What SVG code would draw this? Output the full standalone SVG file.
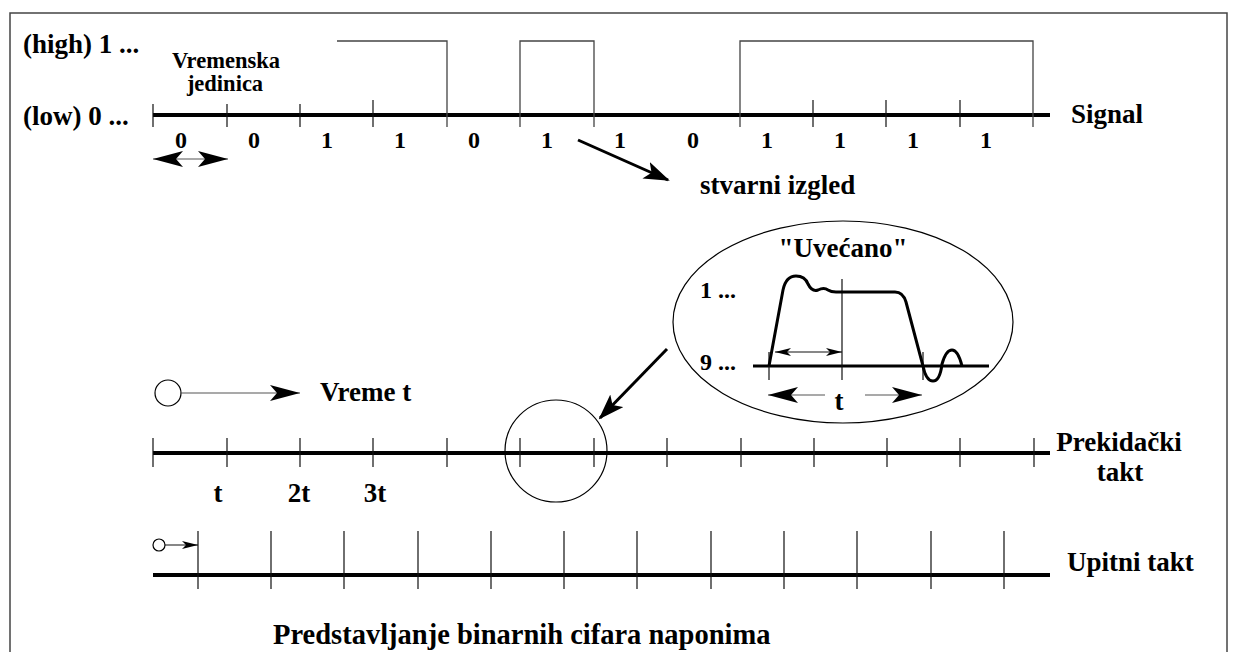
<svg xmlns="http://www.w3.org/2000/svg" width="1237" height="652" viewBox="0 0 1237 652">
<style>
text{font-family:"Liberation Serif","Times New Roman",serif;font-weight:bold;fill:#000}
.lbl{font-size:27px}
.bit{font-size:24px}
.axis{stroke:#000;stroke-width:4;fill:none}
.tick{stroke:#111;stroke-width:1.2;fill:none}
.sig{stroke:#444;stroke-width:1.3;fill:none}
.thin{stroke:#555;stroke-width:1.2;fill:none}
.thick{stroke:#000;stroke-width:3;fill:none}
</style>
<defs>
<marker id="big" viewBox="0 0 30 16" refX="30" refY="8" markerWidth="30" markerHeight="16" markerUnits="userSpaceOnUse" orient="auto-start-reverse">
<path d="M0,0 L30,8 L0,16 L7,8 Z" fill="#000"/>
</marker>
<marker id="sm" viewBox="0 0 16 8" refX="16" refY="4" markerWidth="16" markerHeight="8" markerUnits="userSpaceOnUse" orient="auto-start-reverse">
<path d="M0,0 L16,4 L0,8 L4,4 Z" fill="#000"/>
</marker>
<marker id="thk" viewBox="0 0 26 18" refX="24" refY="9" markerWidth="26" markerHeight="18" markerUnits="userSpaceOnUse" orient="auto">
<path d="M0,0 L26,9 L0,18 L6,9 Z" fill="#000"/>
</marker>
</defs>
<rect x="10" y="13" width="1217" height="660" fill="none" stroke="#444" stroke-width="1.5"/>

<g id="signal">
<text class="lbl" x="23" y="53">(high) 1 ...</text>
<text class="lbl" x="23" y="125">(low) 0 ...</text>
<text x="226" y="68" font-size="22.5" text-anchor="middle">Vremenska</text>
<text x="225" y="91" font-size="22.5" text-anchor="middle">jedinica</text>
<line class="axis" x1="153" y1="115" x2="1050" y2="115"/>
<path class="tick" d="M153,104V127 M227,104V127 M300,104V127 M373,100V127 M813,100V127 M886,100V127 M960,100V127"/>
<path class="sig" d="M337,41H447V127 M520,127V41H594V127 M740,127V41H1033V127"/>
<g class="bit" text-anchor="middle">
<text x="181" y="148">0</text><text x="254" y="148">0</text><text x="327" y="148">1</text><text x="400" y="148">1</text>
<text x="474" y="148">0</text><text x="547" y="148">1</text><text x="620" y="148">1</text><text x="693" y="148">0</text>
<text x="767" y="148">1</text><text x="840" y="148">1</text><text x="913" y="148">1</text><text x="986" y="148">1</text>
</g>
<text class="lbl" x="1071" y="123">Signal</text>
</g>

<g id="unit-arrow">
<line class="thin" x1="153" y1="159" x2="228" y2="159" marker-start="url(#big)" marker-end="url(#big)"/>
</g>

<g id="stvarni">
<text class="lbl" x="700" y="194">stvarni izgled</text>
</g>

<g id="zoom-ellipse">
<ellipse cx="843" cy="322" rx="170" ry="101" fill="none" stroke="#000" stroke-width="1.2"/>
<text class="lbl" x="843" y="257" text-anchor="middle">"Uvećano"</text>
<text x="700" y="298" font-size="24">1 ...</text>
<text x="700" y="370" font-size="24">9 ...</text>
<line class="thick" x1="753" y1="366" x2="989" y2="366"/>
<path class="tick" d="M769,352V380 M842,279V380 M923,352V380"/>
<path class="thick" d="M769,366 L783,290 Q786,276 796,276 Q805,276 808,284 Q812,292 818,290 Q824,287 828,290 Q831,292 836,292 L895,292 Q903,292 906,302 L923,366 Q926,381 933,381 Q940,381 942,364 Q946,350 952,350 Q958,350 962,366"/>
<line class="tick" x1="775" y1="352" x2="842" y2="352" marker-start="url(#sm)" marker-end="url(#sm)"/>
<line class="thin" x1="768" y1="395" x2="825" y2="395" marker-start="url(#big)"/>
<line class="thin" x1="865" y1="395" x2="922" y2="395" marker-end="url(#big)"/>
<text x="839" y="410" font-size="27" text-anchor="middle">t</text>
</g>

<g id="vreme">
<circle cx="168" cy="393" r="13" fill="#fff" stroke="#000" stroke-width="1.2"/>
<line class="thin" x1="181" y1="393" x2="300" y2="393" marker-end="url(#big)"/>
<text class="lbl" x="320" y="401">Vreme t</text>
</g>

<g id="prekidacki">
<line class="axis" x1="153" y1="453" x2="1050" y2="453"/>
<path class="tick" d="M153,438V467 M227,438V467 M300,438V467 M373,438V467 M447,438V467 M520,438V467 M594,438V467 M667,438V467 M741,438V467 M814,438V467 M887,438V467 M960,438V467 M1034,438V467"/>
<circle cx="556" cy="451" r="51" fill="none" stroke="#000" stroke-width="1.2"/>
<g class="lbl" text-anchor="middle">
<text x="218" y="502">t</text><text x="299" y="502">2t</text><text x="375" y="502">3t</text>
</g>
<text class="lbl" x="1119" y="451" text-anchor="middle">Prekidački</text>
<text class="lbl" x="1120" y="481" text-anchor="middle">takt</text>
</g>

<g id="upitni">
<line class="axis" x1="153" y1="575" x2="1050" y2="575"/>
<path class="tick" d="M198,531V589 M271,531V589 M344,531V589 M418,531V589 M491,531V589 M564,531V589 M637,531V589 M711,531V589 M784,531V589 M857,531V589 M931,531V589 M1004,531V589"/>
<circle cx="159" cy="545" r="6" fill="#fff" stroke="#000" stroke-width="1.2"/>
<line class="tick" x1="165" y1="545" x2="198" y2="545" marker-end="url(#sm)"/>
<text class="lbl" x="1067" y="571">Upitni takt</text>
</g>

<g id="connectors">
<line class="thick" x1="578" y1="140" x2="668" y2="180" marker-end="url(#thk)"/>
<line class="thick" x1="667" y1="349" x2="600" y2="418" marker-end="url(#thk)"/>
</g>

<text x="273" y="644" font-size="28.5">Predstavljanje binarnih cifara naponima</text>
</svg>
